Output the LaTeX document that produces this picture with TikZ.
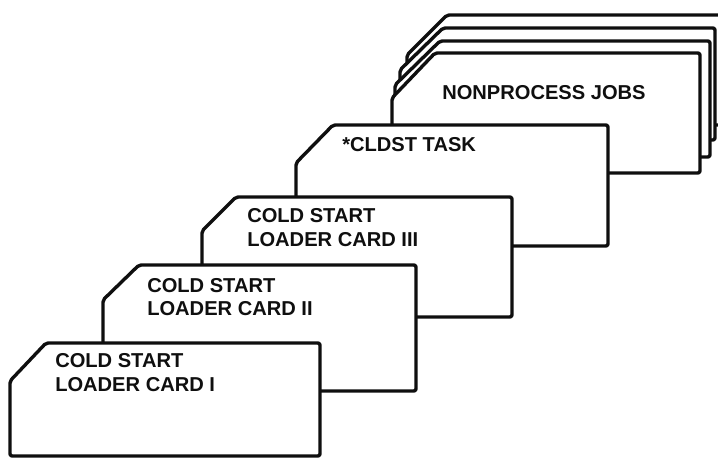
\documentclass[tikz,border=0pt]{standalone}
\usepackage{fontspec}
\setmainfont{Liberation Sans}
\usepackage{xcolor}
\definecolor{cardink}{RGB}{15,15,15}
\usepackage{tikz}
\usetikzlibrary{positioning}
\tikzset{
  card/.style={draw=cardink, fill=white, line width=2.4pt, rounded corners=1.5pt, line join=round},
  cardtext/.style={font=\fontsize{14.3}{17}\selectfont\bfseries, text=cardink, anchor=base west, inner sep=0pt}
}
\begin{document}
\begin{tikzpicture}[x=0.025cm, y=-0.025cm]
  \useasboundingbox (0,0) rectangle (718,458);
  \clip (0,0) rectangle (718,458);

  % Nonprocess jobs stack (back to front)
  \draw[card] (407,125) -- (407,55) -- (447,15) -- (730,15) -- (730,125) -- cycle;
  \draw[card] (400,140) -- (400,70) -- (443,28) -- (715,28) -- (715,140) -- cycle;
  \draw[card] (395,157) -- (395,85) -- (440,41) -- (710,41) -- (710,157) -- cycle;
  \draw[card] (392,173) -- (392,98) -- (435,53) -- (700,53) -- (700,173) -- cycle;
  \node[cardtext] (jobs) at (442,100) {NONPROCESS JOBS};

  % *CLDST task card
  \draw[card] (296,246) -- (296,163) -- (333,125) -- (608,125) -- (608,246) -- cycle;
  \node[cardtext] (task) at (342,152) {*CLDST TASK};

  % Loader card III
  \draw[card] (202,317) -- (202,231) -- (236,197) -- (512,197) -- (512,317) -- cycle;
  \node[cardtext] (cardIIIa) at (247,223) {COLD START};
  \node[cardtext] (cardIIIb) at (247,247) {LOADER CARD III};

  % Loader card II
  \draw[card] (103,391) -- (103,300) -- (139,265) -- (416,265) -- (416,391) -- cycle;
  \node[cardtext] (cardIIa) at (147,293) {COLD START};
  \node[cardtext] (cardIIb) at (147,316) {LOADER CARD II};

  % Loader card I
  \draw[card] (10,456) -- (10,381) -- (46,343) -- (320,343) -- (320,456) -- cycle;
  \node[cardtext] (cardIa) at (55,368) {COLD START};
  \node[cardtext] (cardIb) at (55,392) {LOADER CARD I};
\end{tikzpicture}
\end{document}
